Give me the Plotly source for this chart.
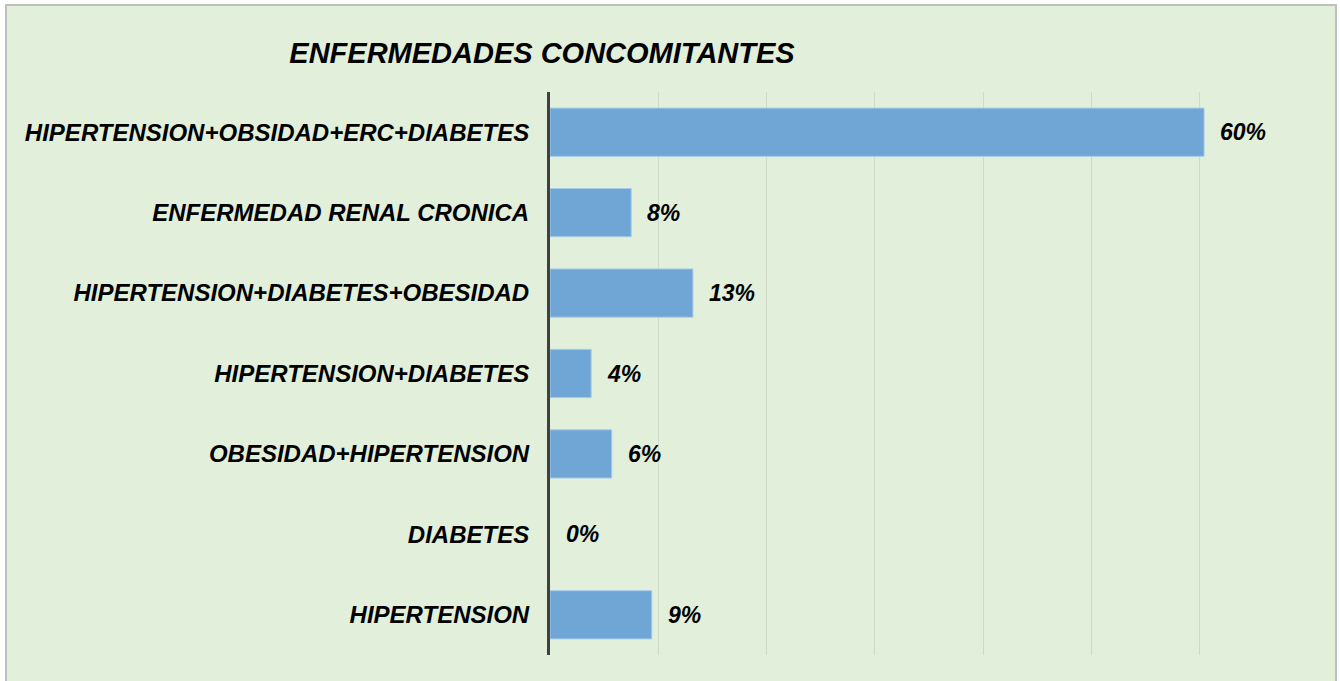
import plotly.graph_objects as go

categories = [
    "HIPERTENSION+OBSIDAD+ERC+DIABETES",
    "ENFERMEDAD RENAL CRONICA",
    "HIPERTENSION+DIABETES+OBESIDAD",
    "HIPERTENSION+DIABETES",
    "OBESIDAD+HIPERTENSION",
    "DIABETES",
    "HIPERTENSION",
]
values = [60.4, 7.5, 13.2, 3.8, 5.7, 0.0, 9.4]
value_labels = ["60%", "8%", "13%", "4%", "6%", "0%", "9%"]
title_text = "ENFERMEDADES CONCOMITANTES"

W, H = 1340, 681
L, R, T, B = 550, 32, 92, 26
pw, ph = W - L - R, H - T - B

def px_x(p):
    return (p - L) / pw

def px_y(p):
    return (H - B - p) / ph

font_family = "Liberation Sans, Arial, sans-serif"

fig = go.Figure()
fig.add_trace(go.Bar(
    y=categories,
    x=values,
    orientation="h",
    marker=dict(color="#6FA6D6",
                line=dict(color="#A8CBEA", width=[0 if v == 0 else 1 for v in values])),
    hoverinfo="skip",
))

annotations = []
for c, v, t in zip(categories, values, value_labels):
    annotations.append(dict(
        x=v, y=c, xref="x", yref="y", text=t, showarrow=False,
        xanchor="left", yanchor="middle", xshift=14,
        font=dict(family=font_family, size=23, color="#000000", weight="bold", style="italic"),
    ))

fig.update_layout(
    width=W, height=H,
    margin=dict(l=L, r=R, t=T, b=B),
    paper_bgcolor="#FFFFFF",
    plot_bgcolor="rgba(0,0,0,0)",
    bargap=0.4,
    showlegend=False,
    title=dict(
        text=title_text,
        x=542 / W, xanchor="center",
        y=1 - 53 / H, yanchor="middle", yref="container",
        font=dict(family=font_family, size=29, color="#000000", weight="bold", style="italic"),
    ),
    xaxis=dict(
        range=[0, 70], dtick=10, showgrid=True, gridcolor="#D0DACB", gridwidth=1,
        showticklabels=False, zeroline=False, showline=False, fixedrange=True,
    ),
    yaxis=dict(
        autorange="reversed", showline=True, linecolor="#404040", linewidth=3,
        showgrid=False, ticks="", ticklabelstandoff=13,
        tickfont=dict(family=font_family, size=24, color="#000000", weight="bold", style="italic"),
    ),
    annotations=annotations,
    shapes=[dict(
        type="rect", xref="paper", yref="paper", layer="below",
        x0=px_x(6), x1=px_x(1336), y0=px_y(700), y1=px_y(5),
        fillcolor="#E2EFDA", line=dict(color="#BFBFBF", width=2),
    )],
)

fig.write_html("out.html", config={"displayModeBar": False},
               post_script="document.body.style.margin='0';")
